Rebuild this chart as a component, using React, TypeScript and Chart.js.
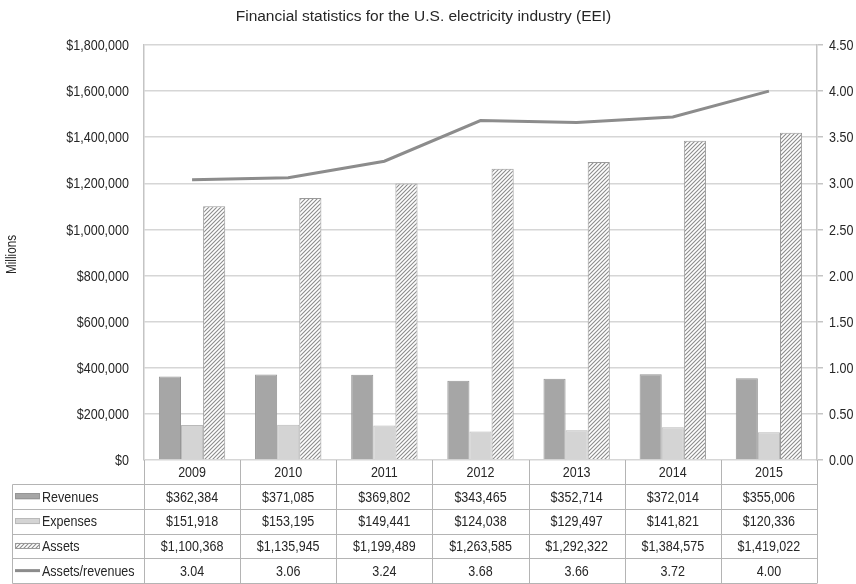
import React, { useEffect, useRef } from "react";
import { Chart, registerables } from "chart.js";

Chart.register(...registerables);

const title = "Financial statistics for the U.S. electricity industry (EEI)";
const years = ["2009", "2010", "2011", "2012", "2013", "2014", "2015"];
const revenues = [362384, 371085, 369802, 343465, 352714, 372014, 355006];
const expenses = [151918, 153195, 149441, 124038, 129497, 141821, 120336];
const assets = [1100368, 1135945, 1199489, 1263585, 1292322, 1384575, 1419022];
const assetsToRevenues = [3.04, 3.06, 3.24, 3.68, 3.66, 3.72, 4.0];
const seriesNames = ["Revenues", "Expenses", "Assets", "Assets/revenues"];
const leftAxisTitle = "Millions";

const FONT = '"Liberation Sans", Arial, sans-serif';
const NARROW = 0.835;
const TEXT = "#262626";
const REV_FILL = "#a6a6a6";
const REV_BORDER = "#969696";
const EXP_FILL = "#d4d4d4";
const EXP_BORDER = "#b9b9b9";
const HATCH = "#8c8c8c";
const LINE = "#8c8c8c";
const GRID = "#d6d6d6";
const AXIS = "#c4c4c4";
const TABLE_LINE = "#b4b4b4";

function makeHatch(): CanvasPattern | string {
  const c = document.createElement("canvas");
  c.width = 4;
  c.height = 4;
  const g = c.getContext("2d");
  if (!g) return "#cccccc";
  g.fillStyle = "#ffffff";
  g.fillRect(0, 0, 4, 4);
  g.strokeStyle = HATCH;
  g.lineWidth = 1.1;
  g.beginPath();
  g.moveTo(0, 4);
  g.lineTo(4, 0);
  g.moveTo(-1, 1);
  g.lineTo(1, -1);
  g.moveTo(3, 5);
  g.lineTo(5, 3);
  g.stroke();
  const p = g.createPattern(c, "repeat");
  return p || "#cccccc";
}

const fmtMoney = (v: number) => "$" + Math.round(v).toLocaleString("en-US");
const fmtRatio = (v: number) => v.toFixed(2);

// Text drawn in a condensed style (Arial Narrow look) by horizontal scaling.
function narrowText(
  ctx: CanvasRenderingContext2D,
  text: string,
  x: number,
  y: number,
  align: CanvasTextAlign,
  size: number,
  rotate = 0
) {
  ctx.save();
  ctx.font = `${size}px ${FONT}`;
  ctx.fillStyle = TEXT;
  ctx.textAlign = align;
  ctx.textBaseline = "middle";
  ctx.translate(x, y);
  if (rotate) ctx.rotate(rotate);
  ctx.scale(NARROW, 1);
  ctx.fillText(text, 0, 0);
  ctx.restore();
}

export default function App() {
  const ref = useRef<HTMLCanvasElement | null>(null);

  useEffect(() => {
    document.body.style.margin = "0";
    const canvas = ref.current;
    if (!canvas) return;
    const hatch = makeHatch();

    const tableRows: { name: string; values: string[]; key: string }[] = [
      { name: seriesNames[0], values: revenues.map(fmtMoney), key: "rev" },
      { name: seriesNames[1], values: expenses.map(fmtMoney), key: "exp" },
      { name: seriesNames[2], values: assets.map(fmtMoney), key: "ast" },
      { name: seriesNames[3], values: assetsToRevenues.map(fmtRatio), key: "line" },
    ];

    const axisLabelPlugin = {
      id: "axisLabels",
      afterDraw(chart: any) {
        const ctx = chart.ctx as CanvasRenderingContext2D;
        const y = chart.scales.y;
        const y1 = chart.scales.y1;
        const area = chart.chartArea;
        y.ticks.forEach((t: any) => {
          narrowText(ctx, fmtMoney(t.value), area.left - 15, y.getPixelForValue(t.value) + 1, "right", 15);
        });
        y1.ticks.forEach((t: any) => {
          narrowText(ctx, fmtRatio(t.value), area.right + 12, y1.getPixelForValue(t.value) + 1, "left", 15);
        });
        narrowText(ctx, leftAxisTitle, 12, (area.top + area.bottom) / 2 + 2, "center", 14, -Math.PI / 2);
      },
    };

    const tablePlugin = {
      id: "dataTable",
      afterDraw(chart: any) {
        const ctx = chart.ctx as CanvasRenderingContext2D;
        const xs = chart.scales.x;
        const area = chart.chartArea;
        const n = years.length;
        const colW = (area.right - area.left) / n;
        const top = area.bottom;
        const yearRowH = 24;
        const rowH = 24.75;
        const tableLeft = 12.5;
        const rowTops: number[] = [];
        for (let r = 0; r <= tableRows.length; r++) rowTops.push(top + yearRowH + r * rowH);
        const bottom = rowTops[rowTops.length - 1];
        const snap = (v: number) => Math.round(v) + 0.5;

        ctx.save();
        ctx.strokeStyle = TABLE_LINE;
        ctx.lineWidth = 1;
        ctx.beginPath();
        for (let i = 0; i <= n; i++) {
          const cx = i < n ? xs.getPixelForValue(i) - colW / 2 : xs.getPixelForValue(n - 1) + colW / 2;
          ctx.moveTo(snap(cx), top);
          ctx.lineTo(snap(cx), bottom);
        }
        for (let r = 0; r < rowTops.length; r++) {
          ctx.moveTo(tableLeft, snap(rowTops[r]));
          ctx.lineTo(snap(area.right), snap(rowTops[r]));
        }
        ctx.moveTo(tableLeft, snap(rowTops[0]));
        ctx.lineTo(tableLeft, snap(bottom));
        ctx.stroke();
        ctx.restore();

        for (let i = 0; i < n; i++) {
          narrowText(ctx, years[i], xs.getPixelForValue(i), top + yearRowH / 2 + 1, "center", 15);
        }
        tableRows.forEach((row, r) => {
          const cy = rowTops[r] + rowH / 2 + 1;
          for (let i = 0; i < n; i++) {
            narrowText(ctx, row.values[i], xs.getPixelForValue(i), cy, "center", 15);
          }
          const kx = 15;
          const kw = 25;
          ctx.save();
          if (row.key === "line") {
            ctx.strokeStyle = LINE;
            ctx.lineWidth = 3;
            ctx.beginPath();
            ctx.moveTo(kx, cy - 1);
            ctx.lineTo(kx + kw, cy - 1);
            ctx.stroke();
          } else {
            const kh = 6;
            ctx.fillStyle = row.key === "rev" ? REV_FILL : row.key === "exp" ? EXP_FILL : (hatch as any);
            ctx.fillRect(kx, cy - 1 - kh / 2, kw, kh);
            ctx.strokeStyle = row.key === "rev" ? REV_BORDER : row.key === "exp" ? EXP_BORDER : "#9a9a9a";
            ctx.lineWidth = 1;
            ctx.strokeRect(kx + 0.5, Math.round(cy - 1 - kh / 2) + 0.5, kw - 1, kh - 1);
          }
          ctx.restore();
          narrowText(ctx, row.name, kx + kw + 2, cy, "left", 15);
        });
      },
    };

    const chart = new Chart(canvas, {
      type: "bar",
      data: {
        labels: years,
        datasets: [
          {
            type: "line",
            label: seriesNames[3],
            data: assetsToRevenues,
            yAxisID: "y1",
            borderColor: LINE,
            backgroundColor: LINE,
            borderWidth: 3,
            pointRadius: 0,
            tension: 0,
            order: 0,
          } as any,
          {
            label: seriesNames[0],
            data: revenues,
            yAxisID: "y",
            backgroundColor: REV_FILL,
            borderColor: REV_BORDER,
            borderWidth: 1,
            order: 1,
          },
          {
            label: seriesNames[1],
            data: expenses,
            yAxisID: "y",
            backgroundColor: EXP_FILL,
            borderColor: EXP_BORDER,
            borderWidth: 1,
            order: 1,
          },
          {
            label: seriesNames[2],
            data: assets,
            yAxisID: "y",
            backgroundColor: hatch as any,
            borderColor: "#9a9a9a",
            borderWidth: 1,
            order: 1,
          },
        ],
      },
      options: {
        responsive: false,
        animation: false,
        devicePixelRatio: 1,
        layout: { padding: { left: 0, right: 9, top: 0, bottom: 0 } },
        datasets: {
          bar: { barPercentage: 1, categoryPercentage: 0.69 },
        },
        plugins: {
          legend: { display: false },
          tooltip: { enabled: false },
          title: {
            display: true,
            text: title,
            color: TEXT,
            font: { family: FONT, size: 15.5, weight: "normal", lineHeight: 1.2 },
            padding: { top: 7, bottom: 19.4 },
          },
        },
        scales: {
          x: {
            display: true,
            grid: { display: false },
            border: { display: false },
            ticks: { display: false },
            afterFit(scale: any) {
              scale.height = 124;
            },
          },
          y: {
            position: "left",
            min: 0,
            max: 1800000,
            z: 1,
            ticks: { stepSize: 200000, display: false },
            grid: { color: GRID, lineWidth: 1.5, drawTicks: false },
            border: { display: true, color: AXIS, width: 1.5 },
            afterFit(scale: any) {
              scale.width = 144;
            },
          },
          y1: {
            position: "right",
            min: 0,
            max: 4.5,
            ticks: { stepSize: 0.5, display: false },
            grid: { drawOnChartArea: false, drawTicks: true, tickLength: 6, color: AXIS, lineWidth: 1.5 },
            border: { display: true, color: AXIS, width: 1.5 },
            afterFit(scale: any) {
              scale.width = 30;
            },
          },
        },
      } as any,
      plugins: [tablePlugin, axisLabelPlugin],
    });

    return () => chart.destroy();
  }, []);

  return (
    <div style={{ width: 856, height: 584, background: "#ffffff" }}>
      <canvas ref={ref} width={856} height={584} style={{ display: "block" }} />
    </div>
  );
}
